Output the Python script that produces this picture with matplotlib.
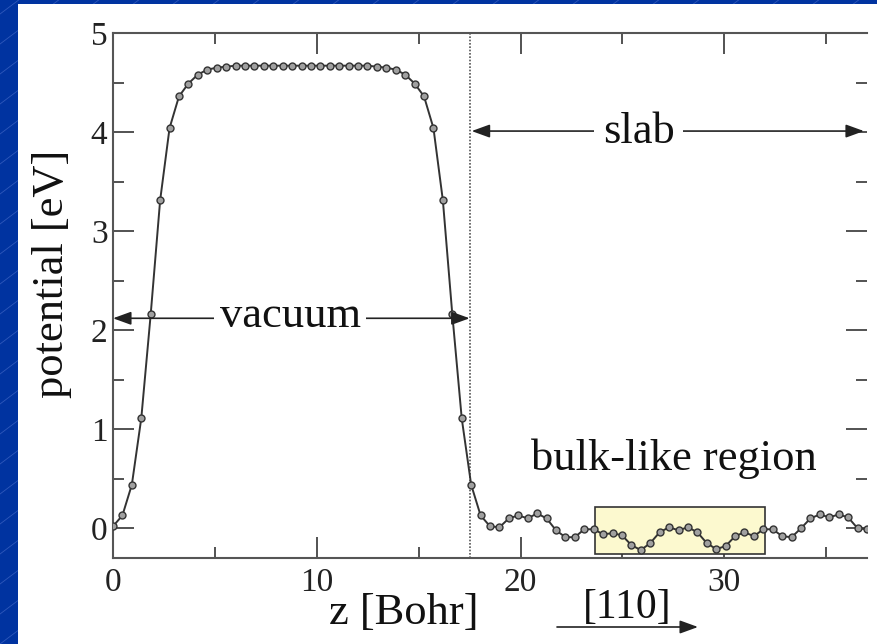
import numpy as np
import matplotlib.pyplot as plt
from matplotlib.patches import Rectangle
from matplotlib.ticker import MultipleLocator

plt.rcParams['font.family'] = ['Liberation Serif', 'DejaVu Serif']

# planar averaged potential on an even z grid (Bohr), values in eV
dz = 0.4625
potential = [
    0.02, 0.13, 0.44, 1.11, 2.16, 3.31, 4.04, 4.36, 4.49, 4.58,
    4.63, 4.65, 4.66, 4.67, 4.67, 4.67, 4.67, 4.67, 4.67, 4.67,
    4.67, 4.67, 4.67, 4.67, 4.67, 4.67, 4.67, 4.67, 4.66, 4.65,
    4.63, 4.58, 4.49, 4.36, 4.04, 3.31, 2.16, 1.11, 0.44, 0.13,
    0.02, 0.01, 0.10, 0.13, 0.10, 0.15, 0.10, -0.02, -0.09, -0.09,
    -0.01, -0.01, -0.06, -0.05, -0.07, -0.17, -0.22, -0.15, -0.04, 0.01,
    -0.02, 0.01, -0.04, -0.15, -0.21, -0.18, -0.08, -0.04, -0.08, -0.01,
    -0.01, -0.08, -0.09, 0.00, 0.10, 0.14, 0.11, 0.14, 0.11, 0.00,
    -0.01,
]
z = dz * np.arange(len(potential))

slab_start = 17.5
bulk_z = [23.66, 31.98]
bulk_v = [-0.26, 0.215]

fig = plt.figure(figsize=(8.77, 6.44), dpi=100, facecolor='#0033a0')

# blue slide background with faint diagonal lines, white panel on top
bg = fig.add_axes([0, 0, 1, 1], zorder=-10)
bg.set_xlim(0, 877)
bg.set_ylim(0, 644)
bg.axis('off')
for c in np.arange(-900, 700, 30):
    bg.plot([0, 877], [c, c + 877 * 0.75], color='#2f58bb', lw=0.6, zorder=1)
bg.add_patch(Rectangle((18, 0), 870, 640, facecolor='white', edgecolor='none', zorder=5))

ax = fig.add_axes([113 / 877, 86 / 644, 754 / 877, 525 / 644])
ax.set_facecolor('white')

ax.add_patch(Rectangle((bulk_z[0], bulk_v[0]), bulk_z[1] - bulk_z[0], bulk_v[1] - bulk_v[0],
                       facecolor='#fcf9cf', edgecolor='#333333', lw=1.2, zorder=2))
ax.axvline(slab_start, color='#555555', ls=(0, (1, 1)), lw=1.2, zorder=2)
ax.plot(z, potential, '-', color='#333333', lw=1.4, marker='o', ms=5,
        mfc='#a0a0a0', mec='#333333', mew=1.0, zorder=3)

arrow = dict(arrowstyle='<|-|>,head_length=0.55,head_width=0.2', color='#222222',
             lw=1.2, shrinkA=0, shrinkB=0, mutation_scale=20)
ax.annotate('', xy=(0, 2.12), xytext=(slab_start, 2.12), arrowprops=arrow)
ax.text(8.7, 2.03, 'vacuum', fontsize=32, ha='center', va='baseline', color='#111111',
        bbox=dict(facecolor='white', edgecolor='none', pad=4), zorder=4)
ax.annotate('', xy=(17.6, 4.01), xytext=(36.85, 4.01), arrowprops=arrow)
ax.text(25.8, 3.89, 'slab', fontsize=32, ha='center', va='baseline', color='#111111',
        bbox=dict(facecolor='white', edgecolor='none', pad=6), zorder=4)
ax.text(27.5, 0.586, 'bulk-like region', fontsize=32, ha='center', va='baseline',
        color='#111111')

ax.set_xlim(0, 37)
ax.set_ylim(-0.3, 5)
ax.xaxis.set_major_locator(MultipleLocator(10))
ax.xaxis.set_minor_locator(MultipleLocator(5))
ax.yaxis.set_major_locator(MultipleLocator(1))
ax.yaxis.set_minor_locator(MultipleLocator(0.5))
ax.tick_params(which='both', direction='in', top=True, right=True, color='#444444',
               width=1.3, labelsize=24, labelcolor='#222222')
ax.tick_params(which='major', length=15)
ax.tick_params(which='minor', length=8)
ax.tick_params(axis='x', pad=7)
ax.tick_params(axis='y', pad=4)
for side in ['left', 'bottom', 'top']:
    ax.spines[side].set_color('#555555')
    ax.spines[side].set_linewidth(1.5)
ax.spines['right'].set_visible(False)

fig.text(404 / 877, 20 / 644, 'z [Bohr]', fontsize=32, ha='center', va='baseline', color='#111111')
fig.text(52 / 877, 370 / 644, 'potential [eV]', fontsize=32, rotation=90,
         ha='center', va='center', color='#111111')
fig.text(627 / 877, 26 / 644, '[110]', fontsize=30, ha='center', va='baseline', color='#111111')
ax.annotate('', xy=(698, 17), xytext=(557, 17), xycoords='figure pixels',
            textcoords='figure pixels', annotation_clip=False,
            arrowprops=dict(arrowstyle='-|>,head_length=0.55,head_width=0.2', color='#222222',
                            lw=1.2, shrinkA=0, shrinkB=0, mutation_scale=20))

fig.savefig('out.png', dpi=100, facecolor=fig.get_facecolor())
